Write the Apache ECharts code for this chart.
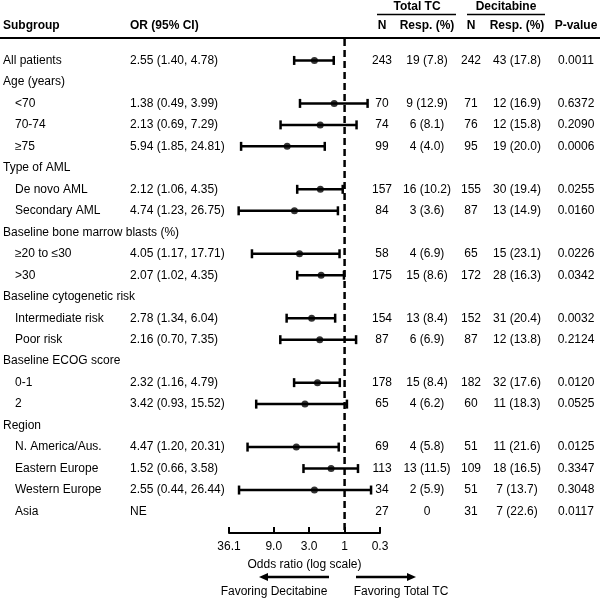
<!DOCTYPE html>
<html>
<head>
<meta charset="utf-8">
<script src="https://cdn.jsdelivr.net/npm/echarts@6/dist/echarts.min.js"></script>
<style>
html,body{margin:0;padding:0;background:#fff;}
#chart{width:600px;height:598px;}
</style>
</head>
<body>
<div id="chart"></div>
<script>
// ---- Data ----
const subgroups = ['All patients','Age (years)','<70','70-74','≥75','Type of AML','De novo AML','Secondary AML',
  'Baseline bone marrow blasts (%)','≥20 to ≤30','>30','Baseline cytogenetic risk','Intermediate risk','Poor risk',
  'Baseline ECOG score','0-1','2','Region','N. America/Aus.','Eastern Europe','Western Europe','Asia'];
const indented = [0,0,1,1,1,0,1,1,0,1,1,0,1,1,0,1,1,0,1,1,1,1];
const orText = ['2.55 (1.40, 4.78)','','1.38 (0.49, 3.99)','2.13 (0.69, 7.29)','5.94 (1.85, 24.81)','',
  '2.12 (1.06, 4.35)','4.74 (1.23, 26.75)','','4.05 (1.17, 17.71)','2.07 (1.02, 4.35)','',
  '2.78 (1.34, 6.04)','2.16 (0.70, 7.35)','','2.32 (1.16, 4.79)','3.42 (0.93, 15.52)','',
  '4.47 (1.20, 20.31)','1.52 (0.66, 3.58)','2.55 (0.44, 26.44)','NE'];
const orEst  = [2.55,null,1.38,2.13,5.94,null,2.12,4.74,null,4.05,2.07,null,2.78,2.16,null,2.32,3.42,null,4.47,1.52,2.55,null];
const ciLow  = [1.40,null,0.49,0.69,1.85,null,1.06,1.23,null,1.17,1.02,null,1.34,0.70,null,1.16,0.93,null,1.20,0.66,0.44,null];
const ciHigh = [4.78,null,3.99,7.29,24.81,null,4.35,26.75,null,17.71,4.35,null,6.04,7.35,null,4.79,15.52,null,20.31,3.58,26.44,null];
const nTC    = ['243','','70','74','99','','157','84','','58','175','','154','87','','178','65','','69','113','34','27'];
const respTC = ['19 (7.8)','','9 (12.9)','6 (8.1)','4 (4.0)','','16 (10.2)','3 (3.6)','','4 (6.9)','15 (8.6)','',
  '13 (8.4)','6 (6.9)','','15 (8.4)','4 (6.2)','','4 (5.8)','13 (11.5)','2 (5.9)','0'];
const nDec   = ['242','','71','76','95','','155','87','','65','172','','152','87','','182','60','','51','109','51','31'];
const respDec= ['43 (17.8)','','12 (16.9)','12 (15.8)','19 (20.0)','','30 (19.4)','13 (14.9)','','15 (23.1)','28 (16.3)','',
  '31 (20.4)','12 (13.8)','','32 (17.6)','11 (18.3)','','11 (21.6)','18 (16.5)','7 (13.7)','7 (22.6)'];
const pValues= ['0.0011','','0.6372','0.2090','0.0006','','0.0255','0.0160','','0.0226','0.0342','',
  '0.0032','0.2124','','0.0120','0.0525','','0.0125','0.3347','0.3048','0.0117'];
const tickValues = [36.1, 9, 3, 1, 1/3];
const tickLabels = ['36.1','9.0','3.0','1','0.3'];

// ---- Chart ----
const FONT = '"Liberation Sans", Arial, sans-serif';
const chart = echarts.init(document.getElementById('chart'), null, {renderer:'canvas'});
const nRows = subgroups.length;

const ciData = [], dotData = [];
for (let i = 0; i < nRows; i++) {
  if (orEst[i] != null) {
    ciData.push([ciLow[i], i, ciHigh[i]]);
    dotData.push([orEst[i], i]);
  }
}

chart.setOption({
  animation: false,
  grid: {left: 229, width: 151, top: 38.96, height: 494.04, containLabel: false},
  xAxis: {
    type: 'log', logBase: 10, inverse: true, min: 1/3, max: 36.1,
    splitLine: {show: false},
    axisLine: {show: true, onZero: false, lineStyle: {color: '#000', width: 2}},
    axisTick: {show: true, inside: true, length: 6, lineStyle: {color: '#000', width: 2}, customValues: tickValues},
    axisLabel: {
      color: '#000', fontSize: 12, fontFamily: FONT, margin: 8, customValues: tickValues,
      formatter: v => { const k = tickValues.findIndex(t => Math.abs(t - v) < 1e-6); return k >= 0 ? tickLabels[k] : ''; }
    },
    name: 'Odds ratio (log scale)', nameLocation: 'middle', nameGap: 26,
    nameTextStyle: {color: '#000', fontSize: 12, fontFamily: FONT}
  },
  yAxis: {type: 'value', inverse: true, min: -1, max: 22, show: false},
  series: [
    {
      type: 'line', data: [[1, -1], [1, 22]], symbol: 'none', silent: true,
      lineStyle: {color: '#000', width: 2.5, type: [7, 4]}
    },
    {
      type: 'custom', data: ciData, encode: {x: [0, 2], y: 1},
      renderItem: (params, api) => {
        const p1 = api.coord([api.value(0), api.value(1)]);
        const p2 = api.coord([api.value(2), api.value(1)]);
        const h = 4.5;
        const st = {stroke: '#000', lineWidth: 2.5};
        return {type: 'group', children: [
          {type: 'line', shape: {x1: p1[0], y1: p1[1], x2: p2[0], y2: p2[1]}, style: st},
          {type: 'line', shape: {x1: p1[0], y1: p1[1] - h, x2: p1[0], y2: p1[1] + h}, style: st},
          {type: 'line', shape: {x1: p2[0], y1: p2[1] - h, x2: p2[0], y2: p2[1] + h}, style: st}
        ]};
      }
    },
    {
      type: 'scatter', data: dotData, symbol: 'circle', symbolSize: 7,
      itemStyle: {color: '#000'}
    }
  ]
});

// ---- Table text ----
const g = [];
const txt = (x, y, s, align, bold) => g.push({
  type: 'text', x: x, y: y,
  style: {text: s, fill: '#000', font: (bold ? 'bold ' : '') + '12px ' + FONT, textAlign: align, textVerticalAlign: 'middle'}
});
const line = (x1, y1, x2, y2, w) => g.push({type: 'line', shape: {x1, y1, x2, y2}, style: {stroke: '#000', lineWidth: w}});

const colX = {sub: 3, ind: 15, or: 130, n1: 382, r1: 427, n2: 471, r2: 517, p: 576};
// headers
txt(3, 26, 'Subgroup', 'left', true);
txt(colX.or, 26, 'OR (95% CI)', 'left', true);
txt(colX.n1, 26, 'N', 'center', true);
txt(colX.r1, 26, 'Resp. (%)', 'center', true);
txt(colX.n2, 26, 'N', 'center', true);
txt(colX.r2, 26, 'Resp. (%)', 'center', true);
txt(colX.p, 26, 'P-value', 'center', true);
txt(417, 7, 'Total TC', 'center', true);
txt(506, 7, 'Decitabine', 'center', true);
line(377, 14.5, 456, 14.5, 1.5);
line(467, 14.5, 545, 14.5, 1.5);
line(0, 38, 600, 38, 2);

for (let i = 0; i < nRows; i++) {
  const y = chart.convertToPixel({yAxisIndex: 0}, i);
  txt(indented[i] ? colX.ind : colX.sub, y, subgroups[i], 'left', false);
  if (orText[i]) txt(colX.or, y, orText[i], 'left', false);
  if (nTC[i]) txt(colX.n1, y, nTC[i], 'center', false);
  if (respTC[i]) txt(colX.r1, y, respTC[i], 'center', false);
  if (nDec[i]) txt(colX.n2, y, nDec[i], 'center', false);
  if (respDec[i]) txt(colX.r2, y, respDec[i], 'center', false);
  if (pValues[i]) txt(colX.p, y, pValues[i], 'center', false);
}

// arrows
const ay = 577;
line(329, ay, 266, ay, 2.5);
g.push({type: 'polygon', shape: {points: [[259, ay], [268, ay - 4], [268, ay + 4]]}, style: {fill: '#000'}});
line(356, ay, 408, ay, 2.5);
g.push({type: 'polygon', shape: {points: [[416, ay], [407, ay - 4], [407, ay + 4]]}, style: {fill: '#000'}});
txt(274, 592, 'Favoring Decitabine', 'center', false);
txt(401, 592, 'Favoring Total TC', 'center', false);

chart.setOption({graphic: {elements: g}});
</script>
</body>
</html>
